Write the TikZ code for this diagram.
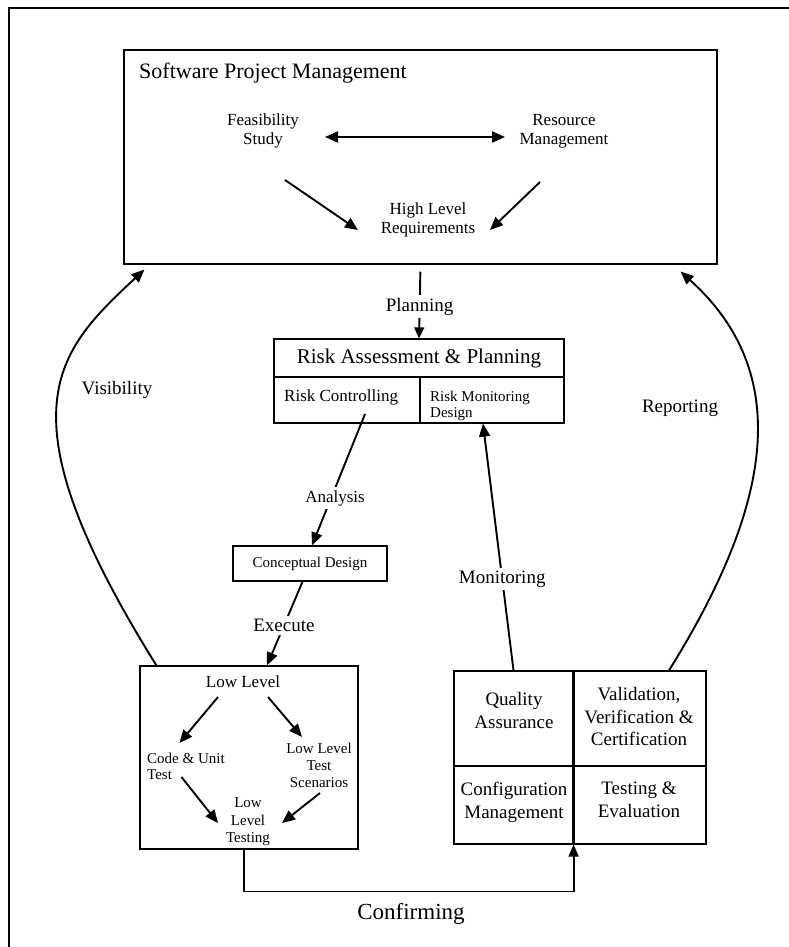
\documentclass[tikz,border=0pt]{standalone}
\usepackage{fontspec}
\setmainfont{Liberation Serif}
\usetikzlibrary{arrows.meta,calc}
\newcommand{\fsz}[2]{\fontsize{#1}{#2}\selectfont}
\begin{document}
\begin{tikzpicture}[x=1pt,y=1pt,
  box/.style={draw,line width=1.2pt,inner sep=0pt},
  arr/.style={line width=1.9pt,-{Triangle[length=13pt,width=11pt]}},
  lbl/.style={fill=white,inner sep=3pt,font=\fsz{19}{21}},
  small/.style={font=\fsz{15}{17},inner sep=0pt},
  mid/.style={font=\fsz{17}{19},inner sep=0pt,align=center},
  cell/.style={font=\fsz{19}{23},inner sep=0pt,align=center}]
\useasboundingbox (0,0) rectangle (789,-947);
\draw[line width=1.3pt] (9,-947) -- (9,-8) -- (789,-8);
\node[box,minimum width=593,minimum height=214] (spm) at (420.5,-157) {};
\node[anchor=base west,font=\fsz{22}{24},inner sep=0pt] (title) at (139,-79) {Software Project Management};
\node[mid] (fs) at (263,-131) {Feasibility\\Study};
\node[mid] (rm) at (564,-131) {Resource\\Management};
\node[mid] (hlr) at (428,-220) {High Level\\Requirements};
\draw[line width=1.9pt,{Triangle[length=13pt,width=11pt]}-{Triangle[length=13pt,width=11pt]}] ([shift={(62,-6)}]fs.center) -- ([shift={(-59,-6)}]rm.center);
\draw[arr] ([shift={(22,-49)}]fs.center) -- ([shift={(-70,-10)}]hlr.center);
\draw[arr] ([shift={(-24,-51)}]rm.center) -- ([shift={(62,-10)}]hlr.center);
\node[box,minimum width=290,minimum height=38,font=\fsz{21}{23}] (rap) at (419,-358) {Risk Assessment \& Planning};
\node[box,minimum width=146,minimum height=46] (rc) at (347,-400) {};
\node[box,minimum width=144,minimum height=46] (rmd) at (492,-400) {};
\node[anchor=base west,font=\fsz{17}{19},inner sep=0pt] (rctext) at (284,-401) {Risk Controlling};
\node[anchor=west,align=left,font=\fsz{15}{16},inner sep=0pt] (rmdtext) at (430,-405.5) {Risk Monitoring\\Design};
\draw[arr,-{Triangle[length=11pt,width=10pt]},shorten <=7pt] (spm.south) -- node[lbl,pos=0.57] {Planning} (rap.north);
\node[box,minimum width=154,minimum height=35,font=\fsz{15}{17}] (cd) at (310,-563.5) {Conceptual Design};
\draw[arr] ([shift={(18,-14)}]rc.center) -- node[lbl,pos=0.64,xshift=4pt,font=\fsz{17}{19}] {Analysis} ([xshift=2pt]cd.north);
\node[box,minimum width=218,minimum height=183] (ll) at (249,-757.5) {};
\draw[arr] ([shift={(-7,1)}]cd.south) -- node[lbl,pos=0.53] {Execute} ([xshift=18pt]ll.north);
\node[mid] (lowlvl) at (243,-682) {Low Level};
\node[small,anchor=west,align=left,font=\fsz{15}{16}] (code) at (147,-766.5) {Code \& Unit\\Test};
\node[small,align=center] (scen) at (319,-765) {Low Level\\Test\\Scenarios};
\node[small,align=center,font=\fsz{15}{17.5}] (llt) at (248,-822) {Low\\Level\\Testing};
\draw[arr] ([shift={(-25,-15)}]lowlvl.center) -- ([shift={(-6.5,23.5)}]code.center);
\draw[arr] ([shift={(25,-15)}]lowlvl.center) -- ([shift={(-17,28)}]scen.center);
\draw[arr] ([shift={(-4.5,-10.5)}]code.center) -- ([shift={(-30,-1)}]llt.center);
\draw[arr] ([shift={(1,-28)}]scen.center) -- ([shift={(34,-1)}]llt.center);
\node[box,minimum width=119,minimum height=95] (qa) at (513.5,-718.5) {};
\node[box,minimum width=133,minimum height=95] (vvc) at (639.5,-718.5) {};
\node[box,minimum width=119,minimum height=78] (cm) at (513.5,-805) {};
\node[box,minimum width=133,minimum height=78] (te) at (639.5,-805) {};
\draw[line width=2pt] (qa.north east) -- (cm.south east);
\node[cell] (qatext) at (514,-710) {Quality\\Assurance};
\node[cell,font=\fsz{19}{22.5}] (vvctext) at (639,-716.5) {Validation,\\Verification \&\\Certification};
\node[cell] (cmtext) at (514,-802) {Configuration\\Management};
\node[cell] (tetext) at (639,-800) {Testing \&\\Evaluation};
\draw[arr] (qa.north) -- node[lbl,pos=0.37] {Monitoring} ([xshift=-9pt]rmd.south);
\draw[arr] ([xshift=29.5pt]vvc.north) .. controls +(106,170) and +(111,-100) .. ([shift={(-37,-7)}]spm.south east);
\node[lbl] (rep) at (680,-408) {Reporting};
\draw[arr] ([xshift=17pt]ll.north west) .. controls +(-159,255) and +(-88,-82) .. ([shift={(21,-5)}]spm.south west);
\node[lbl] (vis) at (117,-390) {Visibility};
\draw[line width=1.2pt] ([xshift=-5pt]ll.south) -- ++(0,-42) -| (cm.south east);
\draw[line width=2pt,-{Triangle[length=12pt,width=10pt]}] ([yshift=-47pt]cm.south east) -- (cm.south east);
\node[font=\fsz{23}{25},inner sep=0pt] (conf) at (411,-914) {Confirming};
\end{tikzpicture}
\end{document}
